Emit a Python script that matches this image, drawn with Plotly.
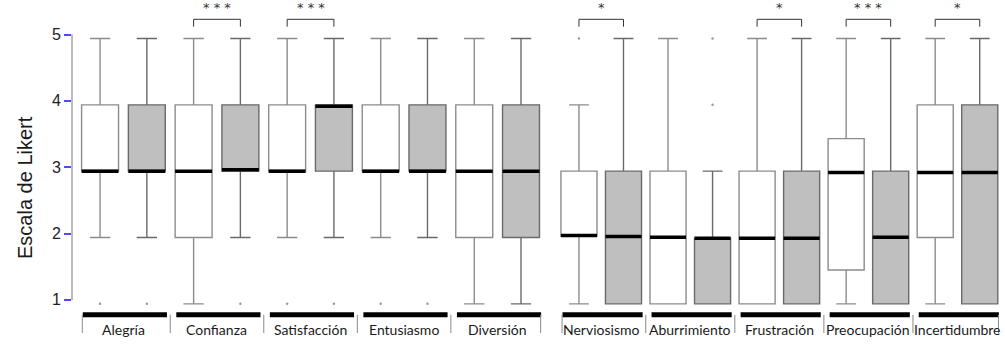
import plotly.graph_objects as go

# ---------------- data ----------------
pos_cats = ["Alegría", "Confianza", "Satisfacción", "Entusiasmo", "Diversión"]
neg_cats = ["Nerviosismo", "Aburrimiento", "Frustración", "Preocupación", "Incertidumbre"]

# positive emotions, white (first condition)
pos_w_low = [1.94, 0.94, 1.94, 1.94, 0.94]
pos_w_q1 = [2.94, 1.94, 2.94, 2.94, 1.94]
pos_w_med = [2.94, 2.94, 2.94, 2.94, 2.94]
pos_w_q3 = [3.94, 3.94, 3.94, 3.94, 3.94]
pos_w_up = [4.94, 4.94, 4.94, 4.94, 4.94]
# positive emotions, gray (second condition)
pos_g_low = [1.94, 1.94, 1.94, 1.94, 0.94]
pos_g_q1 = [2.94, 2.94, 2.94, 2.94, 1.94]
pos_g_med = [2.94, 2.96, 3.92, 2.94, 2.94]
pos_g_q3 = [3.94, 3.94, 3.94, 3.94, 3.94]
pos_g_up = [4.94, 4.94, 4.94, 4.94, 4.94]

# negative emotions, white
neg_w_low = [0.94, 0.94, 0.94, 0.94, 0.94]
neg_w_q1 = [1.96, 0.94, 0.94, 1.45, 1.94]
neg_w_med = [1.97, 1.945, 1.93, 2.92, 2.92]
neg_w_q3 = [2.94, 2.94, 2.94, 3.43, 3.94]
neg_w_up = [3.94, 4.94, 4.94, 4.94, 4.94]
# negative emotions, gray
neg_g_low = [0.94, 0.94, 0.94, 0.94, 0.94]
neg_g_q1 = [0.94, 0.94, 0.94, 0.94, 0.94]
neg_g_med = [1.955, 1.93, 1.93, 1.945, 2.92]
neg_g_q3 = [2.94, 1.93, 2.94, 2.94, 3.94]
neg_g_up = [4.94, 2.94, 4.94, 4.94, 4.94]

# outliers: (box slot index, value)
pos_out_slot = [0, 1, 3, 4, 5, 6, 7]
pos_out_val = [0.94, 0.94, 0.94, 0.94, 0.94, 0.94, 0.94]
neg_out_slot = [0, 3, 3]
neg_out_val = [4.94, 3.94, 4.94]

pos_sig = ["", "***", "***", "", ""]
neg_sig = ["*", "", "*", "***", "*"]

y_ticks = [1, 2, 3, 4, 5]
y_title = "Escala de Likert"

# ---------------- styling ----------------
W, H = 1005, 345
WHITE_FILL, GRAY_FILL = "#FFFFFF", "#BFBFBF"
WHITE_LINE, GRAY_LINE = "#8C8C8C", "#6A6A6A"
LABEL_FONT = "Lato"
BOX_W = 0.79

fig = go.Figure()

def add_panel(xa, cats, wl, wq1, wm, wq3, wu, gl, gq1, gm, gq3, gu, oslot, oval, sig, bw):
    n = len(cats)
    wx = [2 * i for i in range(n)]
    gx = [2 * i + 1 for i in range(n)]
    for xs, lo, q1, md, q3, up, fill, lc in [
        (wx, wl, wq1, wm, wq3, wu, WHITE_FILL, WHITE_LINE),
        (gx, gl, gq1, gm, gq3, gu, GRAY_FILL, GRAY_LINE),
    ]:
        fig.add_trace(go.Box(
            x=xs, q1=q1, median=md, q3=q3, lowerfence=lo, upperfence=up,
            width=bw, fillcolor=fill, line=dict(color=lc, width=1.4),
            whiskerwidth=0.55, boxpoints=False, xaxis=xa, yaxis="y",
            showlegend=False, hoverinfo="skip",
        ))
        # thick black median lines
        mx, my = [], []
        for x, m in zip(xs, md):
            mx += [x - bw / 2, x + bw / 2, None]
            my += [m, m, None]
        fig.add_trace(go.Scatter(x=mx, y=my, mode="lines",
                                 line=dict(color="black", width=3.5),
                                 xaxis=xa, yaxis="y", showlegend=False,
                                 hoverinfo="skip"))
    # outliers
    fig.add_trace(go.Scatter(x=oslot, y=oval, mode="markers",
                             marker=dict(color="#9A9A9A", size=2.5),
                             xaxis=xa, yaxis="y", showlegend=False,
                             hoverinfo="skip"))
    xref = "x" if xa == "x" else "x2"
    for i, c in enumerate(cats):
        a, b = 2 * i, 2 * i + 1
        # category bar
        fig.add_shape(type="line", xref=xref, yref="y",
                      x0=a - 0.37, x1=b + 0.43, y0=0.775, y1=0.775,
                      line=dict(color="black", width=5))
        fig.add_annotation(x=(a + b) / 2, y=0.56, xref=xref, yref="y",
                           text=c, showarrow=False, xanchor="center",
                           yanchor="middle",
                           font=dict(family=LABEL_FONT, size=14, color="#1a1a1a"))
        # significance bracket
        if sig[i]:
            fig.add_shape(type="path", xref=xref, yref="y",
                          path=f"M {a},5.118 L {a},5.229 L {b},5.229 L {b},5.118",
                          line=dict(color="#333333", width=1))
            fig.add_annotation(x=(a + b) / 2, y=5.40, xref=xref, yref="y",
                               text=" ".join(sig[i]), showarrow=False,
                               xanchor="center", yanchor="middle",
                               font=dict(family="DejaVu Sans", size=13, color="#333333"))
    # separators
    seps = [-0.38] + [2 * i + 1.5 for i in range(n - 1)] + [2 * n - 0.58]
    for s in seps:
        fig.add_shape(type="line", xref=xref, yref="y", x0=s, x1=s,
                      y0=0.50, y1=0.775, line=dict(color="#8a8a8a", width=1))

add_panel("x", pos_cats, pos_w_low, pos_w_q1, pos_w_med, pos_w_q3, pos_w_up,
          pos_g_low, pos_g_q1, pos_g_med, pos_g_q3, pos_g_up,
          pos_out_slot, pos_out_val, pos_sig, BOX_W)
add_panel("x2", neg_cats, neg_w_low, neg_w_q1, neg_w_med, neg_w_q3, neg_w_up,
          neg_g_low, neg_g_q1, neg_g_med, neg_g_q3, neg_g_up,
          neg_out_slot, neg_out_val, neg_sig, 0.81)

# y axis line from 1 to 5
fig.add_shape(type="line", xref="paper", yref="y", x0=72 / W, x1=72 / W,
              y0=y_ticks[0], y1=y_ticks[-1], line=dict(color="#A6A6A6", width=1.5))

fig.add_annotation(x=25 / W, y=1 - 188 / H, xref="paper", yref="paper",
                   text=y_title, textangle=-90, showarrow=False,
                   xanchor="center", yanchor="middle",
                   font=dict(family="Liberation Sans", size=20, color="#1a1a1a"))

fig.update_layout(
    width=W, height=H, margin=dict(l=0, r=0, t=0, b=0),
    paper_bgcolor="white", plot_bgcolor="white", boxmode="overlay",
    xaxis=dict(domain=[72 / W, 544.4 / W], range=[-0.6, 9.5], visible=False),
    xaxis2=dict(domain=[556.7 / W, 1002 / W], range=[-0.5, 9.5], visible=False,
                anchor="y"),
    yaxis=dict(range=[0.32, 5.52], tickvals=y_ticks, ticks="outside",
               ticklen=7, tickcolor="#4a4aff", tickwidth=1.5,
               showgrid=False, zeroline=False, showline=False,
               tickfont=dict(family="Liberation Sans", size=16, color="#222222")),
)

fig.write_html("out.html", config={"displayModeBar": False},
               post_script="document.body.style.margin='0';")
